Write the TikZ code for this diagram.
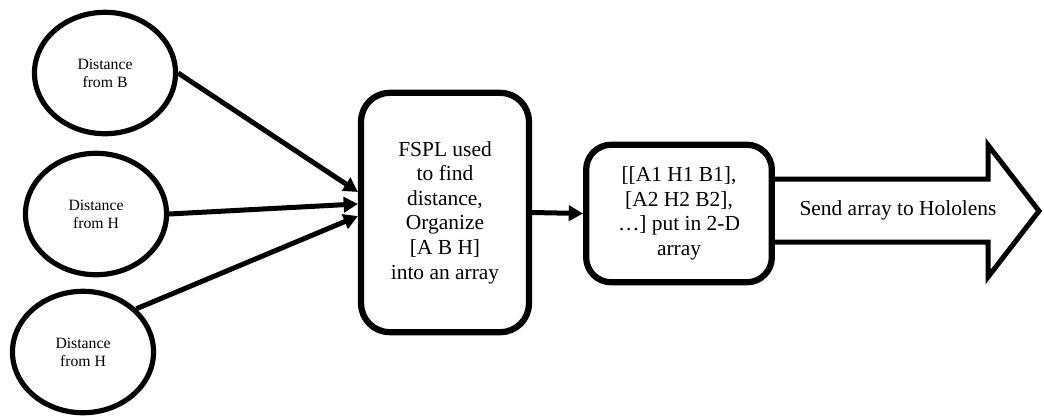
\documentclass[tikz,border=0pt]{standalone}
\usepackage{fontspec}
\setmainfont{Liberation Serif}
\usetikzlibrary{shapes.geometric,arrows.meta}
\begin{document}
\begin{tikzpicture}[x=0.56pt,y=-0.56pt,
  dist/.style={ellipse,draw,line width=2.9pt,minimum width=79pt,minimum height=68pt,inner sep=0pt,align=center,font=\fontsize{8.8}{10}\selectfont},
  procbox/.style={draw,rounded corners=16pt,line width=3.5pt,align=center,inner sep=0pt,font=\fontsize{12}{13.8}\selectfont},
  conn/.style={line width=2.8pt,-{Triangle[length=8pt,width=8.5pt]}},
  bigarrow/.style={line width=2.8pt,line join=miter},
  lbl/.style={font=\fontsize{12}{13.8}\selectfont,inner sep=0pt}
]
\useasboundingbox (0,0) rectangle (1044,417);
\node[dist] (e1) at (105,73) {Distance\\from B};
\node[dist] (e2) at (96,214) {Distance\\from H};
\node[dist] (e3) at (83,352) {Distance\\from H};
\node[procbox,minimum width=94pt,minimum height=134pt] (b1) at (445,212.5)
  {FSPL used\\to find\\distance,\\Organize\\{[}A B H{]}\\into an array};
\node[procbox,rounded corners=14pt,minimum width=104pt,minimum height=77pt] (b2) at (679,213.5)
  {{[}[A1 H1 B1],\\{[}A2 H2 B2],\\…] put in 2-D\\array};
\coordinate (t1) at ([yshift=11.5pt]b1.west);
\coordinate (t2) at ([yshift=4.8pt]b1.west);
\coordinate (t3) at ([yshift=-2pt]b1.west);
\draw[conn] (e1.east) -- (t1);
\draw[conn] (e2.east) -- (t2);
\draw[conn] (e3.39) -- (t3);
\draw[conn] (b1.east) -- (b2.west);
\coordinate (s1) at ([yshift=19.3pt]b2.east);
\coordinate (s2) at ([yshift=-16pt]b2.east);
\draw[bigarrow] (s1) -- (988,179) -- (988,145) -- (1039,211) -- (988,277) -- (988,242) -- (s2);
\node[lbl] (send) at (898,210) {Send array to Hololens};
\end{tikzpicture}
\end{document}
